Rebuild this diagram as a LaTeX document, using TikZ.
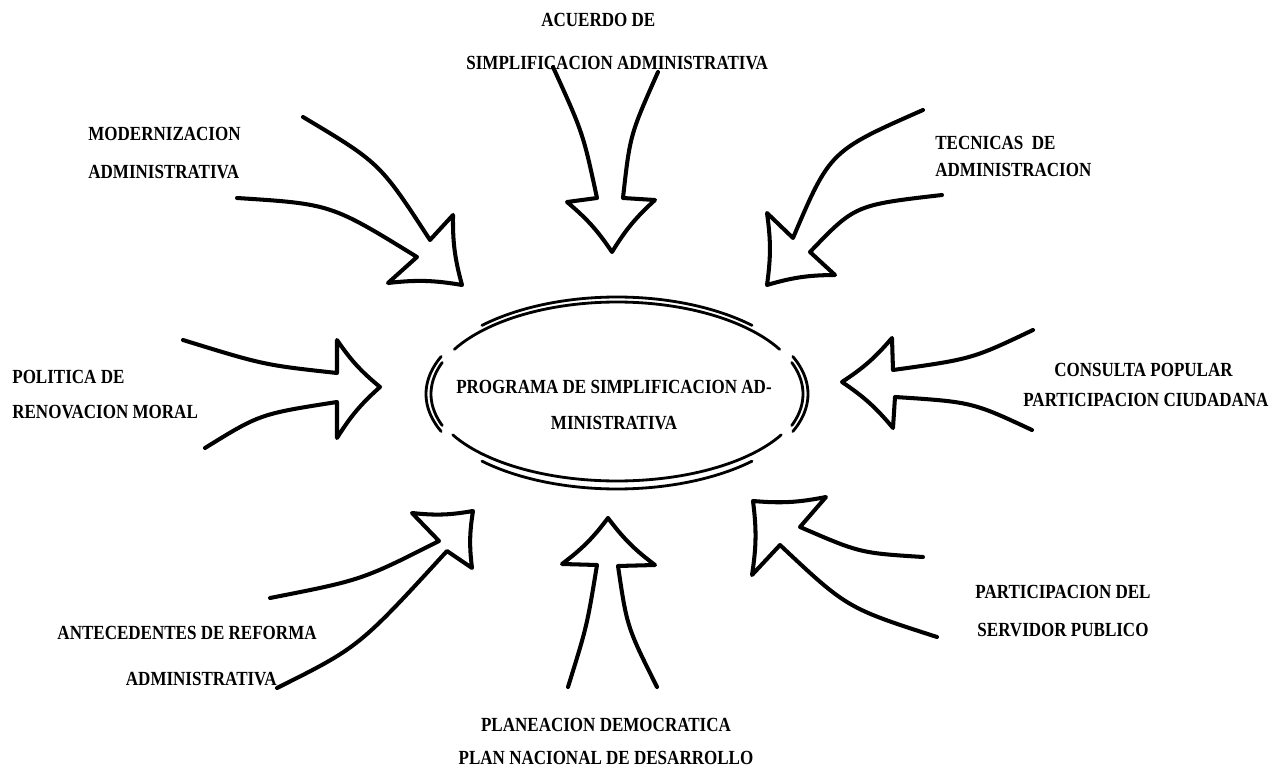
\documentclass[tikz,border=0pt]{standalone}
\usepackage{fontspec}
\newfontfamily\typefont[FakeStretch=0.85]{Liberation Serif}
\begin{document}
\begin{tikzpicture}[x=0.02cm, y=-0.02cm,
  lbl/.style={anchor=west, inner sep=0pt, font=\typefont\bfseries\fontsize{11.4}{14}\selectfont},
  blockarrow/.style={draw=black, line width=2.3pt, line join=round, line cap=round},
  ring/.style={draw=black, line width=1.6pt, line cap=round}]
\useasboundingbox (0,0) rectangle (1276,770);

% central programme, framed by a broken double ellipse
\node[lbl, anchor=center, align=center, font=\typefont\bfseries\fontsize{11.4}{20.5}\selectfont] (prog) at (614,405)
  {PROGRAMA DE SIMPLIFICACION AD-\\MINISTRATIVA};
\draw[ring] plot[domain=45:135, samples=50, variable=\t] ({617+191*cos(\t)}, {394-97*sin(\t)});
\draw[ring] plot[domain=29:151, samples=60, variable=\t] ({617+186*cos(\t)}, {394-92*sin(\t)});
\draw[ring] plot[domain=157:203, samples=30, variable=\t] ({617+191*cos(\t)}, {394-96*sin(\t)});
\draw[ring] plot[domain=160:200, samples=30, variable=\t] ({617+186*cos(\t)}, {394-92*sin(\t)});
\draw[ring] plot[domain=-23:23, samples=30, variable=\t] ({617+191*cos(\t)}, {394-96*sin(\t)});
\draw[ring] plot[domain=-20:20, samples=30, variable=\t] ({617+186*cos(\t)}, {394-92*sin(\t)});
\draw[ring] plot[domain=208:332, samples=60, variable=\t] ({617+186*cos(\t)}, {394-87*sin(\t)});
\draw[ring] plot[domain=225:315, samples=50, variable=\t] ({617+191*cos(\t)}, {394-95*sin(\t)});

% incoming block arrows: tail line, head with swept sides, tail line
% top
\draw[blockarrow] (553,67) .. controls (583,133) .. (597,198) -- (567,202) to[bend left=8] (612,252)
  to[bend left=8] (655,200) -- (623,198) .. controls (630,135) .. (658,72);
% top left
\draw[blockarrow] (303,117) .. controls (380,163) .. (430,240) -- (453,215) to[bend right=8] (462,285)
  to[bend right=8] (388,283) -- (417,257) .. controls (331,204) .. (237,198);
% top right
\draw[blockarrow] (923,110) .. controls (830,151) .. (793,238) -- (767,213) to[bend left=8] (767,285)
  to[bend left=8] (835,275) -- (810,252) .. controls (855,205) .. (942,195);
% left
\draw[blockarrow] (183,340) .. controls (264,365) .. (337,373) -- (337,340) to[bend right=8] (380,387)
  to[bend right=8] (337,438) -- (337,402) .. controls (260,414) .. (205,448);
% right
\draw[blockarrow] (1033,330) .. controls (972,359) .. (893,370) -- (892,338) to[bend left=8] (842,382)
  to[bend left=8] (893,428) -- (895,397) .. controls (972,402) .. (1032,430);
% bottom left
\draw[blockarrow] (270,598) .. controls (362,580) .. (439,541) -- (412,513) to[bend right=8] (473,511)
  to[bend right=8] (472,568) -- (447,551) .. controls (359,647) .. (277,688);
% bottom
\draw[blockarrow] (568,687) .. controls (587,626) .. (597,565) -- (562,564) to[bend right=8] (608,518)
  to[bend right=8] (655,565) -- (618,566) .. controls (627,627) .. (657,687);
% bottom right
\draw[blockarrow] (923,557) .. controls (860,553) .. (800,527) -- (826,497) to[bend left=8] (753,501)
  to[bend left=8] (752,575) -- (780,545) .. controls (847,608) .. (937,637);

% labels
\node[lbl] (acu1) at (541,20) {ACUERDO DE};
\node[lbl] (acu2) at (466,63) {SIMPLIFICACION ADMINISTRATIVA};
\node[lbl] (mod1) at (88,134) {MODERNIZACION};
\node[lbl] (mod2) at (88,172) {ADMINISTRATIVA};
\node[lbl] (tec1) at (935,143) {TECNICAS\ \ DE};
\node[lbl] (tec2) at (935,170) {ADMINISTRACION};
\node[lbl] (pol1) at (12,377) {POLITICA DE};
\node[lbl] (pol2) at (12,412) {RENOVACION MORAL};
\node[lbl] (con1) at (1054,370) {CONSULTA POPULAR};
\node[lbl] (con2) at (1023,400) {PARTICIPACION CIUDADANA};
\node[lbl, anchor=east] (ant1) at (317,633) {ANTECEDENTES DE REFORMA};
\node[lbl, anchor=east] (ant2) at (277,679) {ADMINISTRATIVA};
\node[lbl, anchor=center] (pla1) at (606,725) {PLANEACION DEMOCRATICA};
\node[lbl, anchor=center] (pla2) at (606,758) {PLAN NACIONAL DE DESARROLLO};
\node[lbl, anchor=center] (par1) at (1063,592) {PARTICIPACION DEL};
\node[lbl, anchor=center] (par2) at (1063,630) {SERVIDOR PUBLICO};
\end{tikzpicture}
\end{document}
